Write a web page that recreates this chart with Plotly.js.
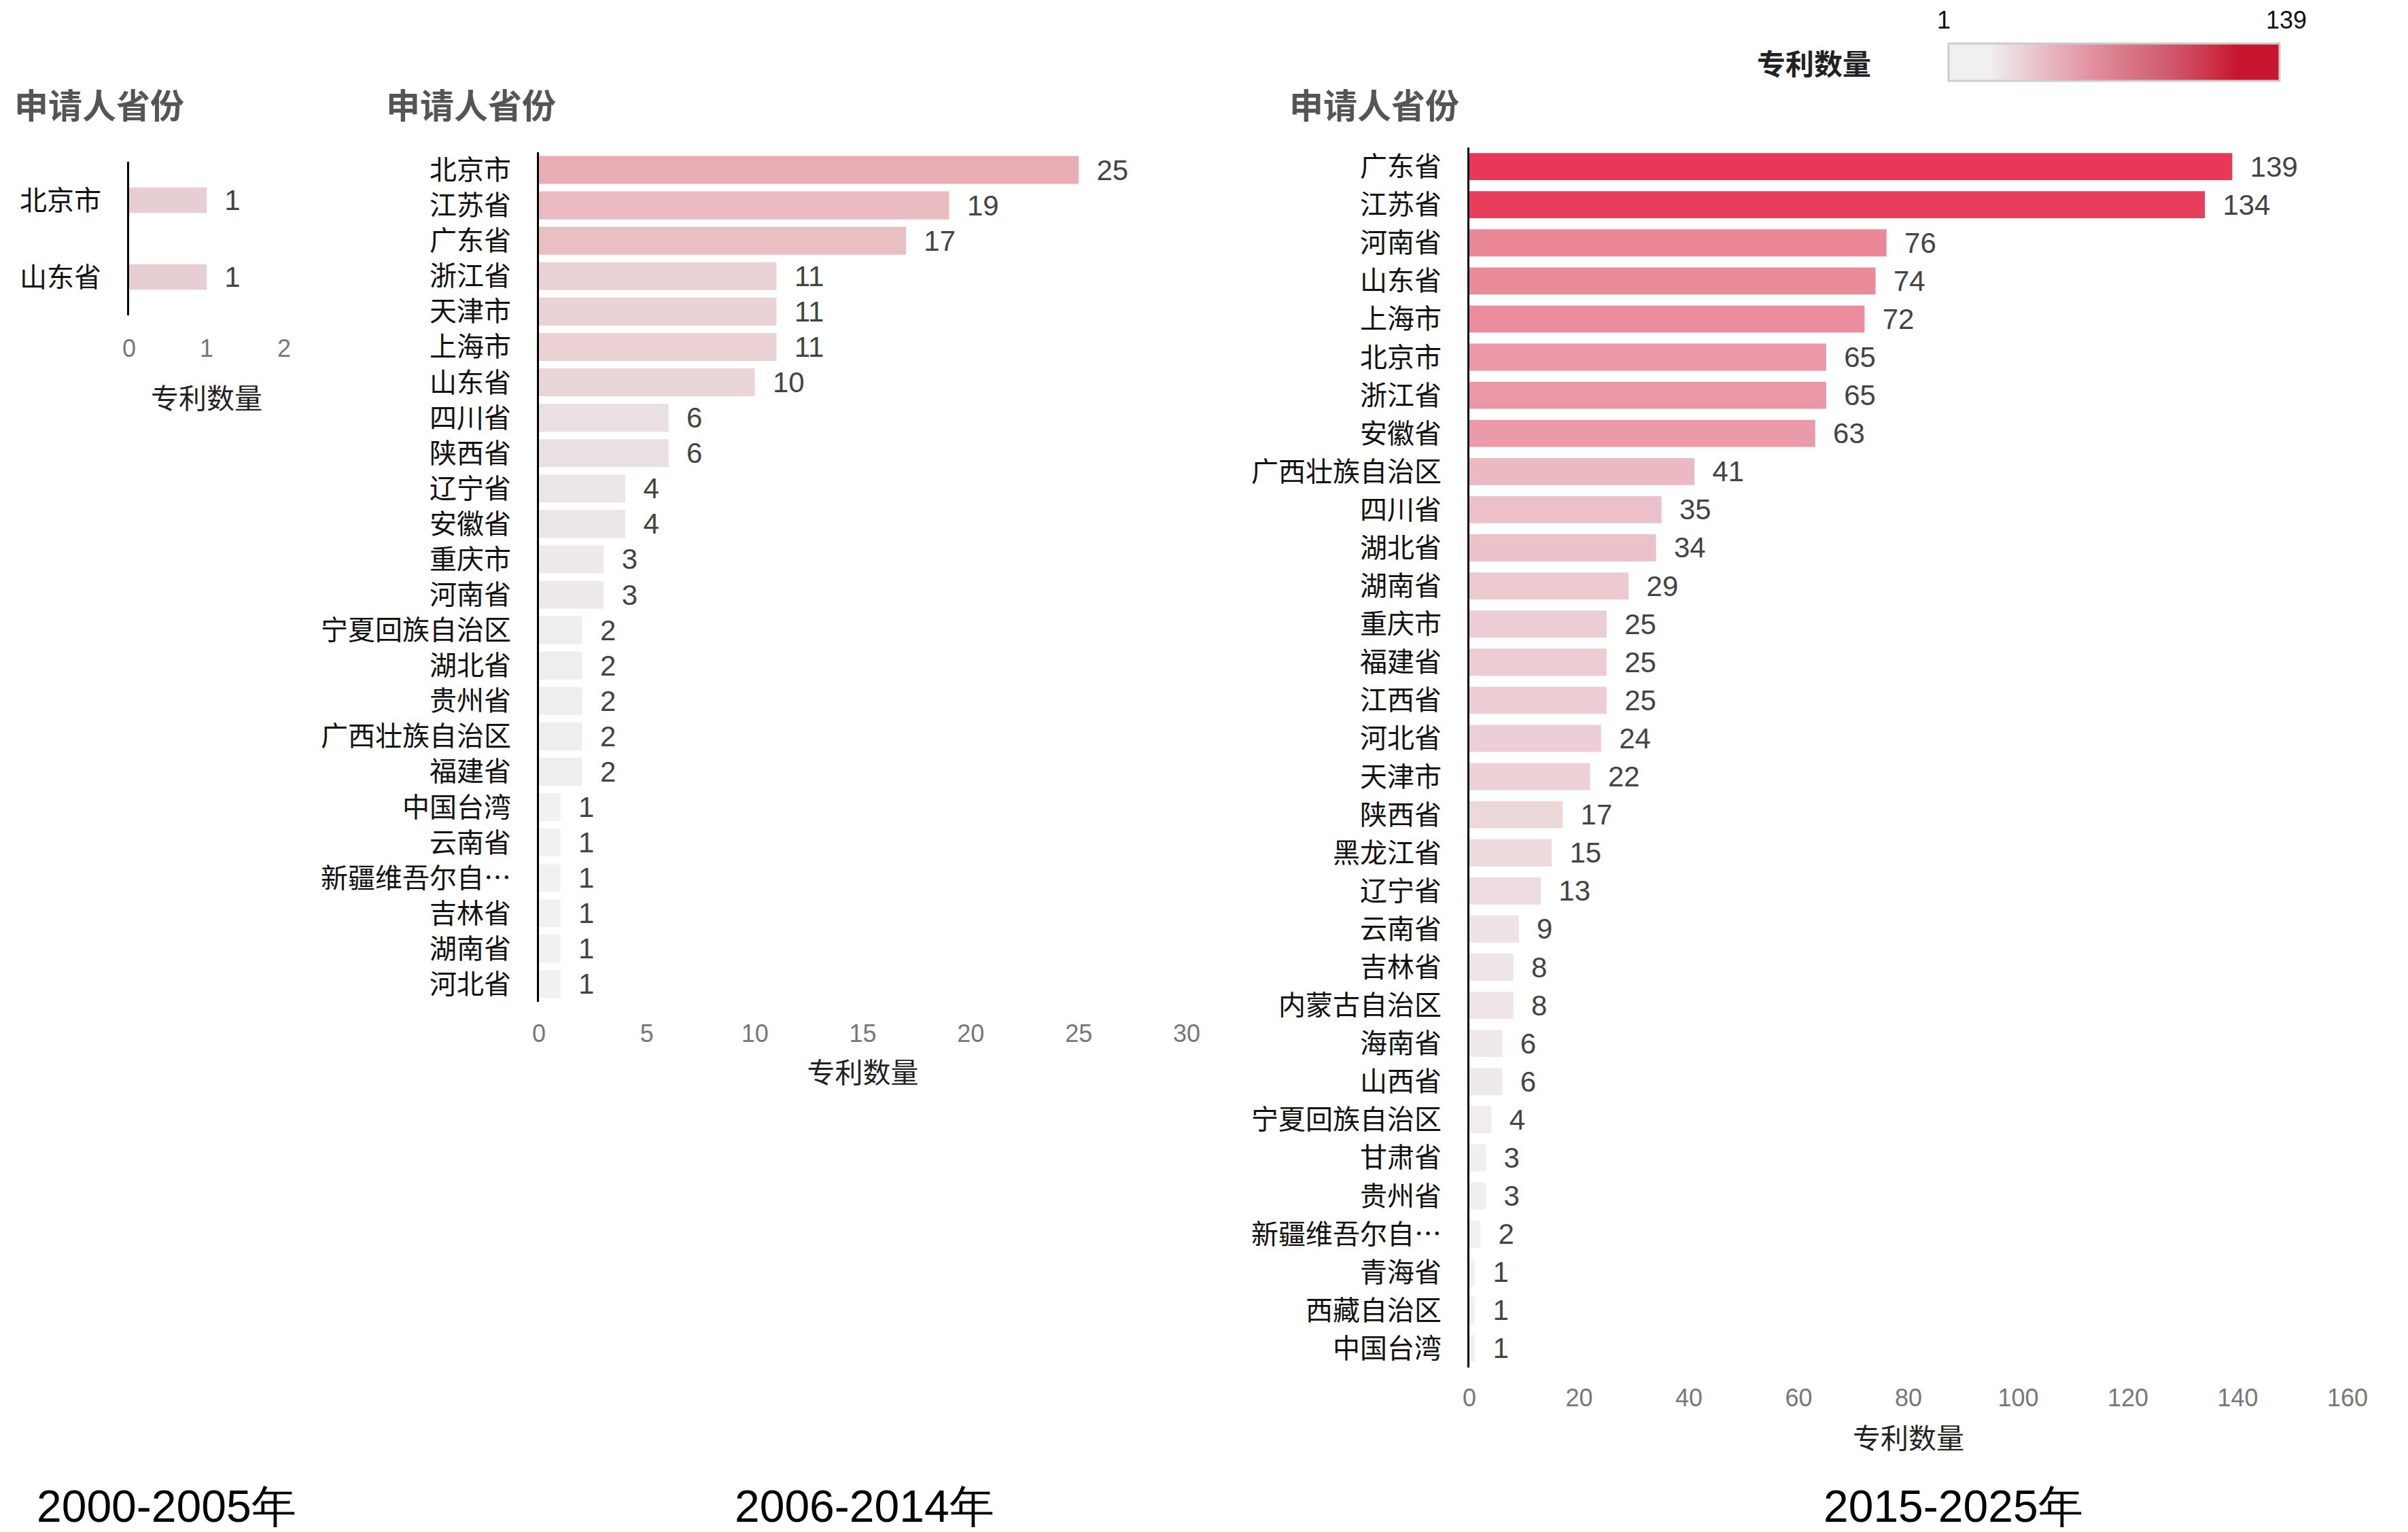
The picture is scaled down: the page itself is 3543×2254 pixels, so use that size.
<!DOCTYPE html>
<html>
<head>
<meta charset="utf-8">
<script src="https://cdn.plot.ly/plotly-3.0.1.min.js"></script>
<style>html,body{margin:0;padding:0;background:#fff;}</style>
</head>
<body>
<div id="chart" style="width:3543px;height:2254px;"></div>
<script>
// ---- data ----
const periods = ['2000-2005年', '2006-2014年', '2015-2025年'];

const provinces1 = ['北京市', '山东省'];
const counts1 = [1, 1];

const provinces2 = ['北京市','江苏省','广东省','浙江省','天津市','上海市','山东省','四川省','陕西省','辽宁省','安徽省','重庆市','河南省','宁夏回族自治区','湖北省','贵州省','广西壮族自治区','福建省','中国台湾','云南省','新疆维吾尔自治区','吉林省','湖南省','河北省'];
const counts2 = [25,19,17,11,11,11,10,6,6,4,4,3,3,2,2,2,2,2,1,1,1,1,1,1];

const provinces3 = ['广东省','江苏省','河南省','山东省','上海市','北京市','浙江省','安徽省','广西壮族自治区','四川省','湖北省','湖南省','重庆市','福建省','江西省','河北省','天津市','陕西省','黑龙江省','辽宁省','云南省','吉林省','内蒙古自治区','海南省','山西省','宁夏回族自治区','甘肃省','贵州省','新疆维吾尔自治区','青海省','西藏自治区','中国台湾'];
const counts3 = [139,134,76,74,72,65,65,63,41,35,34,29,25,25,25,24,22,17,15,13,9,8,8,6,6,4,3,3,2,1,1,1];

const xTicks1 = [0, 1, 2];
const xTicks2 = [0, 5, 10, 15, 20, 25, 30];
const xTicks3 = [0, 20, 40, 60, 80, 100, 120, 140, 160];

// ---- styles ----
const CJK = '"Noto Sans CJK SC", "Noto Sans", sans-serif';
const NUM = '"Liberation Sans", Arial, sans-serif';

const scale2 = [[0,'#f1f1f1'],[0.125,'#ece6e7'],[0.208,'#ebe0e1'],[0.417,'#ead2d5'],[0.667,'#eabfc4'],[1,'#e8aeb4']];
const scale3 = [[0,'#f2f2f2'],[0.087,'#ecdcdf'],[0.174,'#eccdd3'],[0.29,'#ecb8c2'],[0.45,'#ea9aa8'],[0.543,'#ea8898'],[1,'#e83857']];
const cbScale = [[0,'#f0f0f0'],[0.12,'#f0f0f0'],[0.2,'#ecd8dc'],[0.3,'#e8b8c0'],[0.4,'#e49aa8'],[0.5,'#dc8090'],[0.6,'#d46a7c'],[0.7,'#d04f66'],[0.8,'#cc3046'],[0.87,'#c81530'],[1,'#c81530']];

function shortLabel(s){ return s.length > 7 ? s.slice(0,6) + '…' : s; }

function barTrace(cats, vals, ax, color, width){
  return {
    type: 'bar', orientation: 'h',
    x: vals, y: cats,
    xaxis: 'x' + ax, yaxis: 'y' + ax,
    width: width,
    marker: color,
    text: vals.map(String),
    texttemplate: '\u00a0\u00a0%{text}',
    textposition: 'outside',
    constraintext: 'none',
    cliponaxis: false,
    textfont: {family: NUM, size: 42, color: '#444'},
    hoverinfo: 'x+y'
  };
}

const traces = [
  barTrace(provinces1, counts1, '', {color: '#e6ced2'}, 0.33),
  barTrace(provinces2, counts2, '2', {color: counts2, colorscale: scale2, cmin: 1, cmax: 25}, 0.79),
  barTrace(provinces3, counts3, '3', {color: counts3, colorscale: scale3, cmin: 1, cmax: 139}, 0.71),
  {
    type: 'scatter', mode: 'markers',
    x: counts3, y: provinces3, xaxis: 'x3', yaxis: 'y3',
    hoverinfo: 'skip',
    marker: {
      color: counts3, colorscale: cbScale, cmin: 1, cmax: 139, opacity: 0, size: 1,
      showscale: true,
      colorbar: {
        orientation: 'h', lenmode: 'pixels', len: 487, thickness: 55,
        x: 0.8779, xanchor: 'center', xref: 'paper',
        y: 0.9716, yanchor: 'top', yref: 'paper',
        xpad: 0, ypad: 0,
        outlinecolor: '#cccccc', outlinewidth: 3,
        showticklabels: false, ticks: ''
      }
    }
  }
];
traces[0].xaxis = 'x'; traces[0].yaxis = 'y';

function xAxis(domain, range, ticks, anchor, standoff, tls){
  return {
    domain: domain, range: range, anchor: anchor,
    tickvals: ticks, ticks: '', showgrid: false, zeroline: false, showline: false,
    tickfont: {family: NUM, size: 36, color: '#777'},
    ticklabelstandoff: tls,
    title: {text: '专利数量', font: {family: CJK, size: 41, color: '#222'}, standoff: standoff}
  };
}
function yAxis(domain, cats, anchor){
  return {
    domain: domain, anchor: anchor, type: 'category',
    range: [cats.length - 0.5, -0.5],
    tickvals: cats, ticktext: cats.map(shortLabel),
    ticks: '', showgrid: false, zeroline: false,
    showline: true, linecolor: '#000', linewidth: 3,
    tickfont: {family: CJK, size: 40, color: '#111'},
    ticklabelstandoff: 30
  };
}

const W = 3543, H = 2254;
const titleFont = {family: CJK, size: 50, color: '#555', weight: 700};
const periodFont = {family: NUM, size: 66, color: '#000'};
const layout = {
  width: W, height: H,
  margin: {l: 0, r: 0, t: 0, b: 0},
  paper_bgcolor: '#fff', plot_bgcolor: '#fff',
  showlegend: false,
  bargap: 0.2,
  xaxis:  xAxis([190/W, 418/W], [0, 2], xTicks1, 'y', 40, 24),
  yaxis:  yAxis([1-464/H, 1-238/H], provinces1, 'x'),
  xaxis2: xAxis([793/W, 1746/W], [0, 30], xTicks2, 'y2', 24, 22),
  yaxis2: yAxis([1-1474/H, 1-224/H], provinces2, 'x2'),
  xaxis3: xAxis([2162/W, 3454/W], [0, 160], xTicks3, 'y3', 26, 20),
  yaxis3: yAxis([1-2012/H, 1-217/H], provinces3, 'x3'),
  annotations: [
    {text: '申请人省份', xref: 'paper', yref: 'paper', x: 19/W, y: 1-152/H, xanchor: 'left', yanchor: 'middle', showarrow: false, font: titleFont},
    {text: '申请人省份', xref: 'paper', yref: 'paper', x: 566/W, y: 1-152/H, xanchor: 'left', yanchor: 'middle', showarrow: false, font: titleFont},
    {text: '申请人省份', xref: 'paper', yref: 'paper', x: 1895/W, y: 1-152/H, xanchor: 'left', yanchor: 'middle', showarrow: false, font: titleFont},
    {text: '专利数量', xref: 'paper', yref: 'paper', x: 2669/W, y: 1-91/H, xanchor: 'center', yanchor: 'middle', showarrow: false, font: {family: CJK, size: 42, color: '#222', weight: 700}},
    {text: '1', xref: 'paper', yref: 'paper', x: 2860/W, y: 1-30/H, xanchor: 'center', yanchor: 'middle', showarrow: false, font: {family: NUM, size: 36, color: '#111'}},
    {text: '139', xref: 'paper', yref: 'paper', x: 3364/W, y: 1-30/H, xanchor: 'center', yanchor: 'middle', showarrow: false, font: {family: NUM, size: 36, color: '#111'}},
    {text: periods[0], xref: 'paper', yref: 'paper', x: 245/W, y: 1-2216/H, xanchor: 'center', yanchor: 'middle', showarrow: false, font: periodFont},
    {text: periods[1], xref: 'paper', yref: 'paper', x: 1272/W, y: 1-2216/H, xanchor: 'center', yanchor: 'middle', showarrow: false, font: periodFont},
    {text: periods[2], xref: 'paper', yref: 'paper', x: 2874/W, y: 1-2216/H, xanchor: 'center', yanchor: 'middle', showarrow: false, font: periodFont}
  ]
};

Plotly.newPlot('chart', traces, layout, {displayModeBar: false, staticPlot: true});
</script>
</body>
</html>
